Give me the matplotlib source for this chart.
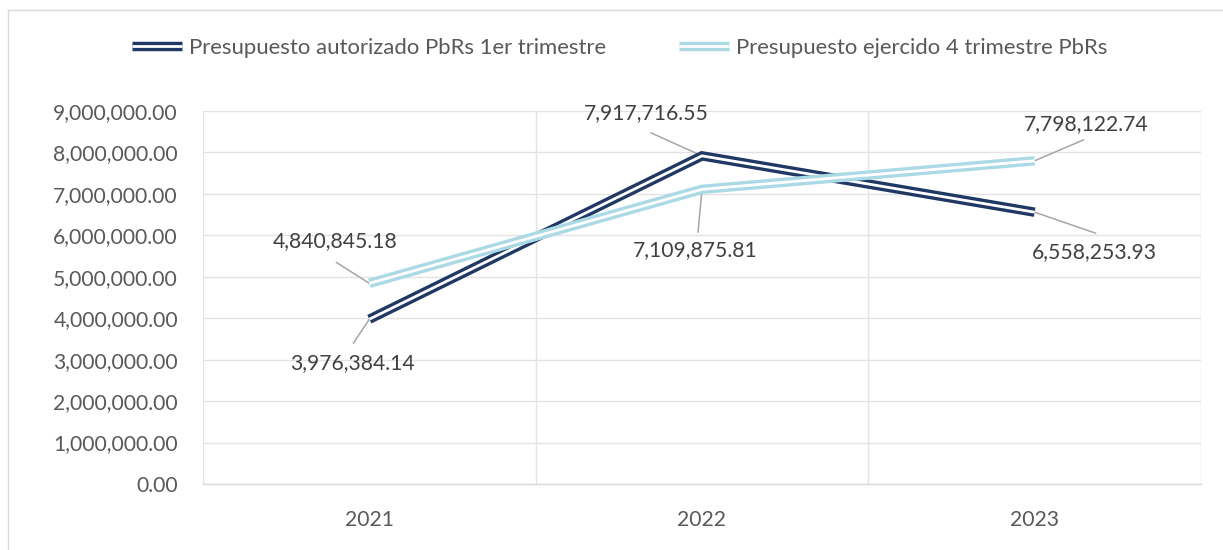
import matplotlib
matplotlib.use("Agg")
import matplotlib.pyplot as plt
from matplotlib.ticker import FuncFormatter, MultipleLocator, FixedLocator
from matplotlib.lines import Line2D

years = ["2021", "2022", "2023"]
autorizado = [3976384.14, 7917716.55, 6558253.93]
ejercido = [4840845.18, 7109875.81, 7798122.74]
series_names = ["Presupuesto autorizado PbRs 1er trimestre",
                "Presupuesto ejercido 4 trimestre PbRs"]

plt.rcParams['font.family'] = ['Lato', 'DejaVu Sans']
FS = 15.2
LFS = 15.9
DARK = '#203864'
LIGHT = '#abd9e6'
GRID = '#e3e3e3'
TICKC = '#595959'
LABELC = '#404040'
LEAD = '#a6a6a6'

fig = plt.figure(figsize=(12.23, 5.5), dpi=100)
ax = fig.add_axes([203/1223, 1-484/550, (1201-203)/1223, (484-111)/550])

x = list(range(len(years)))
OUT_LW, IN_LW = 6.8, 2.0

def dbl(xs, ys, color, z):
    o, = ax.plot(xs, ys, color=color, lw=OUT_LW, solid_joinstyle='miter',
                 solid_capstyle='butt', zorder=z)
    i, = ax.plot(xs, ys, color='white', lw=IN_LW, solid_joinstyle='miter',
                 solid_capstyle='butt', zorder=z + 0.1)
    return o, i

h1 = dbl(x, autorizado, DARK, 3)
h2 = dbl(x, ejercido, LIGHT, 4)

ax.set_xlim(-0.5, 2.5)
ax.set_ylim(0, 9000000)
ax.yaxis.set_major_locator(MultipleLocator(1000000))
ax.yaxis.set_major_formatter(FuncFormatter(lambda v, p: f"{v:,.2f}"))
ax.set_xticks(x)
ax.set_xticklabels(years)
ax.xaxis.set_minor_locator(FixedLocator([-0.5, 0.5, 1.5, 2.5]))
ax.grid(axis='y', which='major', color=GRID, lw=1.0, zorder=0)
ax.grid(axis='x', which='minor', color=GRID, lw=1.0, zorder=0)
ax.grid(axis='x', which='major', visible=False)
for s in ['top', 'right', 'left']:
    ax.spines[s].set_visible(False)
ax.spines['bottom'].set_color('#d9d9d9')
ax.spines['bottom'].set_linewidth(1.0)
ax.tick_params(axis='both', which='both', length=0, labelsize=FS, colors=TICKC)
ax.tick_params(axis='y', pad=18)
ax.tick_params(axis='x', pad=19)

# data labels: (series, index, text offset px, leader end offset px)
k = 0.72
label_specs = [
    (autorizado, 0, (-17, -44), (-16, -24)),
    (ejercido, 0, (-34, 42), (-33, 21)),
    (autorizado, 1, (-56, 43), (-51, 23)),
    (ejercido, 1, (-7, -61), (-4, -43)),
    (ejercido, 2, (52, 37), (49, 21)),
    (autorizado, 2, (60, -40), (61, -21)),
]
for ser, idx, toff, loff in label_specs:
    xy = (x[idx], ser[idx])
    ax.annotate('', xy=xy, xytext=(loff[0]*k, loff[1]*k), textcoords='offset points',
                arrowprops=dict(arrowstyle='-', color=LEAD, lw=1.1, shrinkA=0, shrinkB=0),
                zorder=2)
    ax.annotate(f"{ser[idx]:,.2f}", xy=xy, xytext=(toff[0]*k, toff[1]*k),
                textcoords='offset points', ha='center', va='center',
                fontsize=FS, color=LABELC, zorder=6)

leg = fig.legend([h1, h2], series_names, loc='center', bbox_to_anchor=(620/1223, 1-48/550),
                 ncol=2, frameon=False, fontsize=LFS, handlelength=2.26, handletextpad=0.32,
                 columnspacing=3.3, labelcolor=TICKC)

# chart border
fig.add_artist(Line2D([7.5/1223, 7.5/1223], [0, 1-10/550], color='#d9d9d9', lw=1.0,
                      transform=fig.transFigure))
fig.add_artist(Line2D([7.5/1223, 1], [1-10/550, 1-10/550], color='#d9d9d9', lw=1.0,
                      transform=fig.transFigure))

fig.savefig('out.png', dpi=100)
